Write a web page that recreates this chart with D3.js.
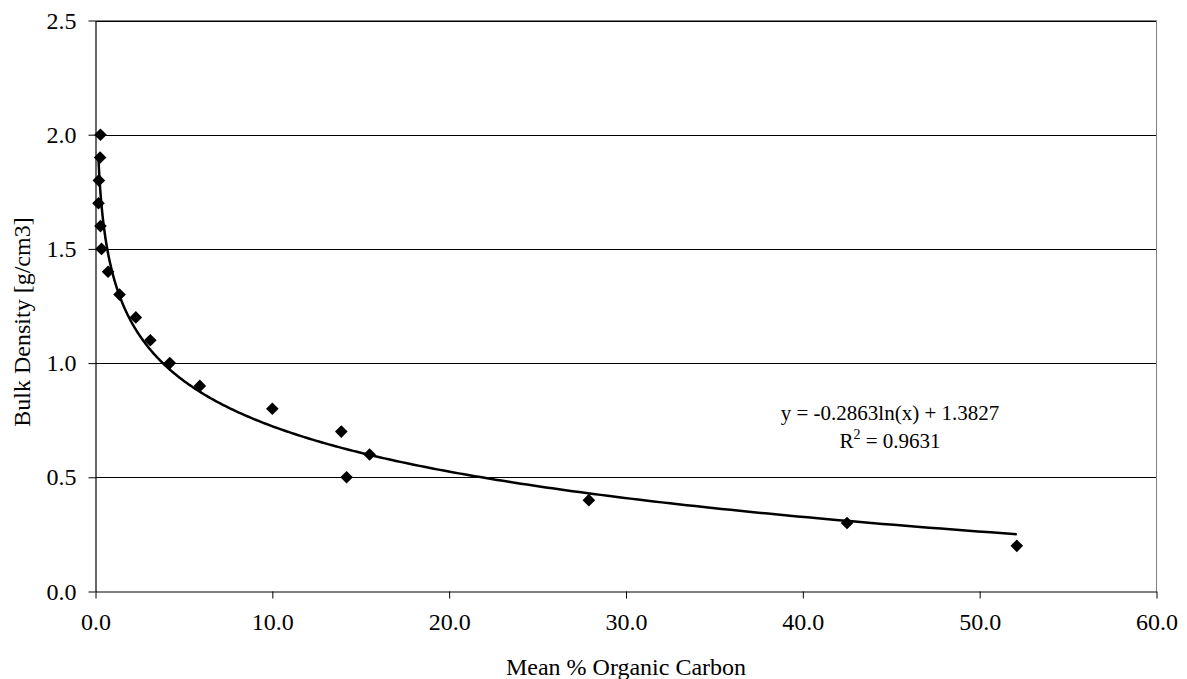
<!DOCTYPE html>
<html>
<head>
<meta charset="utf-8">
<script src="https://cdn.jsdelivr.net/npm/d3@7"></script>
<style>
  body { margin: 0; background: #fff; }
  svg, svg text { font-family: 'Liberation Serif', 'Times New Roman', Times, serif; fill: #000; }
</style>
</head>
<body>
<div id="chart"></div>
<script>
// mean % organic carbon vs bulk density
const carbonPct = [0.28, 0.26, 0.19, 0.17, 0.28, 0.34, 0.71, 1.36, 2.28, 3.1, 4.2, 5.9,
                   10.0, 13.9, 15.5, 14.2, 27.9, 42.5, 52.1];
const bulkDensity = [2.0, 1.9, 1.8, 1.7, 1.6, 1.5, 1.4, 1.3, 1.2, 1.1, 1.0, 0.9,
                     0.8, 0.7, 0.6, 0.5, 0.4, 0.3, 0.2];
const xTicks = [0, 10, 20, 30, 40, 50, 60];
const yTicks = [0, 0.5, 1.0, 1.5, 2.0, 2.5];
// log trendline from the chart label
const fitA = -0.2863;
const fitB = 1.3827;
const fitR2 = 0.9631;

function drawScatter(container, d3 = window.d3) {
    const W = 1187, H = 679;
    const m = { left: 95.5, right: 1156.5, top: 20.5, bottom: 591.5 };
    const serif = "'Liberation Serif', 'Times New Roman', serif";

    const x = d3.scaleLinear().domain([0, 60]).range([m.left, m.right]);
    const y = d3.scaleLinear().domain([0, 2.5]).range([m.bottom, m.top]);

    const svg = d3.select(container).append('svg')
        .attr('width', W)
        .attr('height', H)
        .attr('font-family', serif);

    // horizontal gridlines
    svg.append('g')
        .selectAll('line')
        .data(yTicks.filter(v => v > 0))
        .enter().append('line')
        .attr('x1', m.left).attr('x2', m.right)
        .attr('y1', d => Math.round(y(d)) + 0.5)
        .attr('y2', d => Math.round(y(d)) + 0.5)
        .attr('stroke', '#000')
        .attr('stroke-width', 1);

    // plot border (top and right are grey)
    svg.append('path')
        .attr('d', `M${m.left},${m.top}H${m.right}V${m.bottom}`)
        .attr('fill', 'none')
        .attr('stroke', '#808080')
        .attr('stroke-width', 1);

    const xAxis = svg.append('g')
        .attr('transform', `translate(0,${m.bottom})`)
        .call(d3.axisBottom(x).tickValues(xTicks).tickFormat(d3.format('.1f'))
            .tickSize(7).tickSizeOuter(0).tickPadding(14));

    const yAxis = svg.append('g')
        .attr('transform', `translate(${m.left},0)`)
        .call(d3.axisLeft(y).tickValues(yTicks).tickFormat(d3.format('.1f'))
            .tickSize(7).tickSizeOuter(0).tickPadding(12));

    [xAxis, yAxis].forEach(a => {
        a.attr('font-family', serif).attr('font-size', 24);
        a.selectAll('text').attr('fill', '#000');
    });

    svg.selectAll('.domain').attr('stroke', '#000').attr('stroke-width', 1.2);
    svg.selectAll('.tick line').attr('stroke', '#000');

    // trendline, drawn from smallest to largest x
    const xMin = d3.min(carbonPct), xMax = d3.max(carbonPct);
    const fitX = d3.range(0, 401).map(i => xMin * Math.pow(xMax / xMin, i / 400));
    const line = d3.line()
        .x(d => x(d))
        .y(d => y(fitA * Math.log(d) + fitB));
    svg.append('path')
        .datum(fitX)
        .attr('d', line)
        .attr('fill', 'none')
        .attr('stroke', '#000')
        .attr('stroke-width', 2.5);

    // diamond markers
    const diamond = d3.symbol(d3.symbolSquare, 80);
    svg.append('g')
        .selectAll('path')
        .data(carbonPct.map((c, i) => [c, bulkDensity[i]]))
        .enter().append('path')
        .attr('d', diamond)
        .attr('transform', d => `translate(${x(d[0])},${y(d[1])}) rotate(45)`)
        .attr('fill', '#000');

    // equation label
    svg.append('text')
        .attr('x', 890).attr('y', 420)
        .attr('text-anchor', 'middle')
        .attr('font-size', 21)
        .text(`y = ${fitA}ln(x) + ${fitB}`);
    const r2 = svg.append('text')
        .attr('x', 890).attr('y', 448)
        .attr('text-anchor', 'middle')
        .attr('font-size', 21);
    r2.append('tspan').text('R');
    r2.append('tspan').attr('dy', -9).attr('font-size', 14).text('2');
    r2.append('tspan').attr('dy', 9).text(` = ${fitR2}`);

    // axis titles
    svg.append('text')
        .attr('x', (m.left + m.right) / 2)
        .attr('y', 675)
        .attr('text-anchor', 'middle')
        .attr('font-size', 24)
        .text('Mean % Organic Carbon');
    svg.append('text')
        .attr('transform', `translate(30,322) rotate(-90)`)
        .attr('text-anchor', 'middle')
        .attr('font-size', 24)
        .text('Bulk Density [g/cm3]');
}

drawScatter(document.getElementById('chart'));
</script>
</body>
</html>
